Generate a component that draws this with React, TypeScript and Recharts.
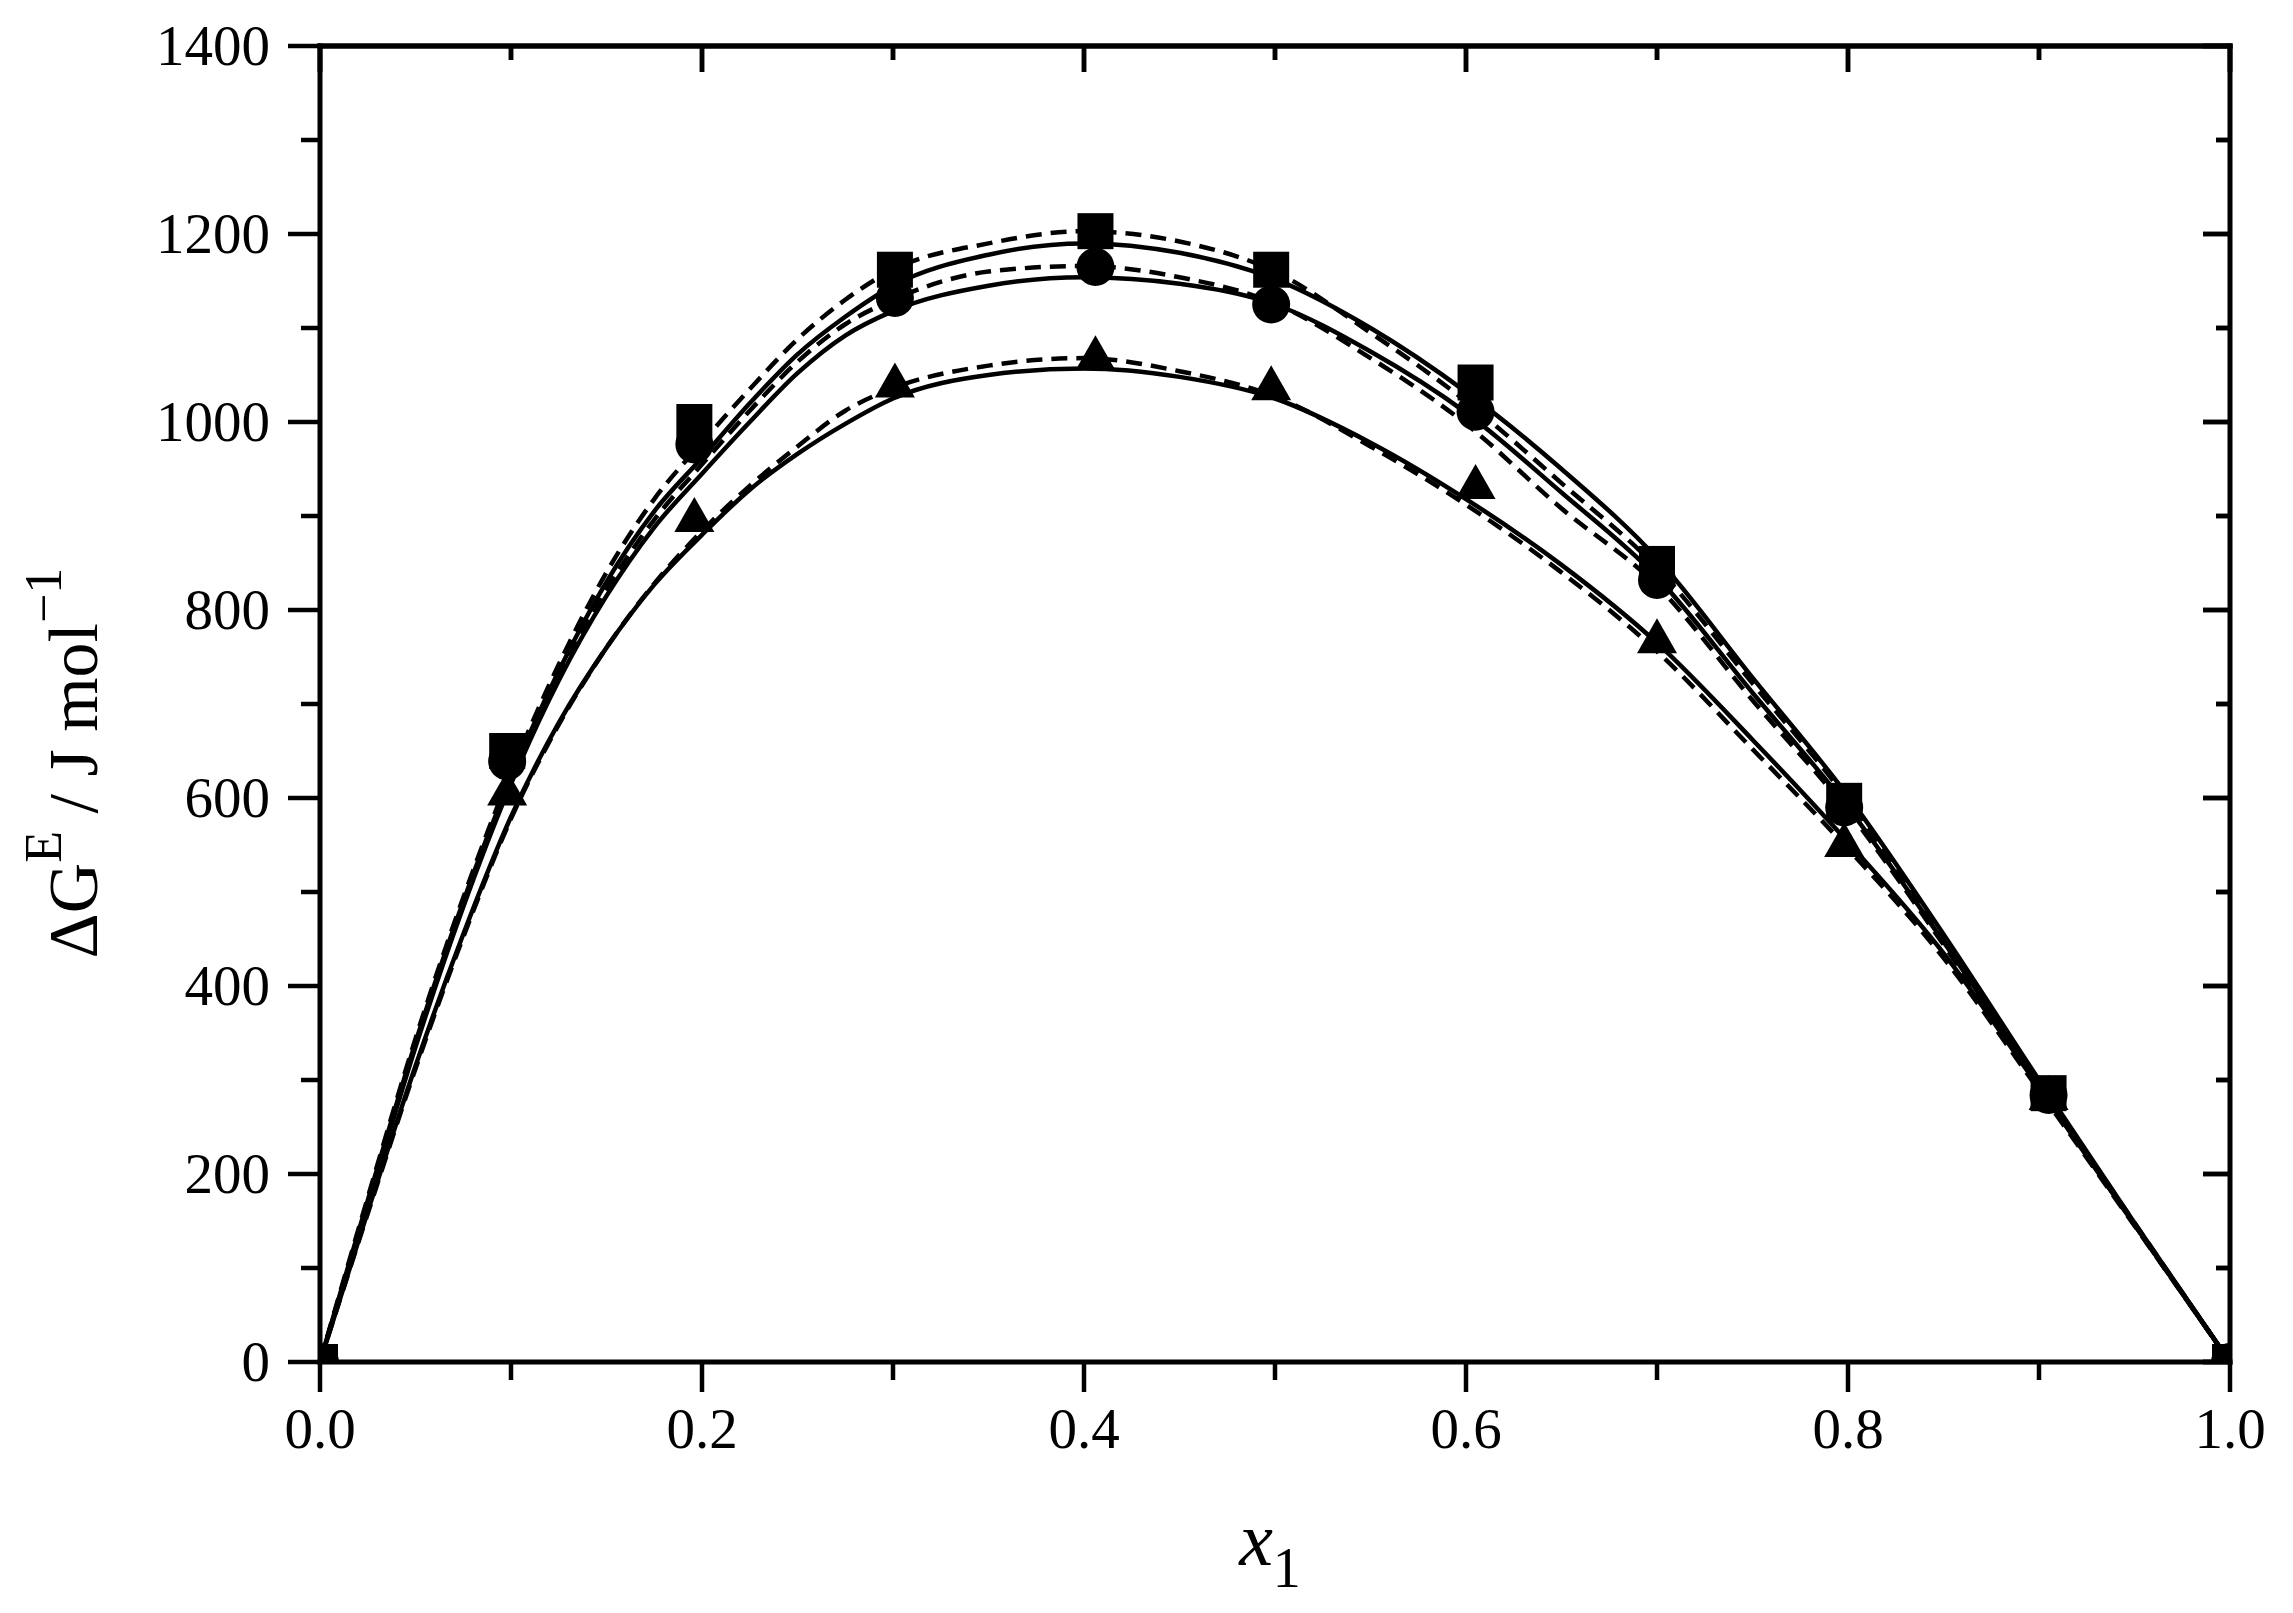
import { ComposedChart, Line, Scatter, XAxis, YAxis, ReferenceLine } from 'recharts';

// model curves (x1 grid)
const fitX = [0, 0.025, 0.05, 0.075, 0.1, 0.125, 0.15, 0.175, 0.2, 0.225, 0.25, 0.275, 0.3, 0.35, 0.4, 0.45, 0.5, 0.55, 0.6, 0.65, 0.7, 0.75, 0.8, 0.85, 0.9, 0.95, 1.0];
const squareSolid = [0, 172, 340, 490, 622, 735, 830, 905, 962, 1020, 1072, 1112, 1145, 1178, 1190, 1180, 1152, 1100, 1032, 950, 855, 728, 602, 455, 300, 148, 0];
const squareDashed = [0, 175, 344, 494, 627, 742, 840, 918, 978, 1035, 1088, 1130, 1162, 1190, 1203, 1192, 1160, 1095, 1022, 935, 845, 722, 598, 452, 298, 148, 0];
const circleSolid = [0, 168, 335, 484, 615, 725, 815, 888, 945, 1000, 1052, 1092, 1118, 1145, 1154, 1147, 1125, 1075, 1010, 925, 835, 712, 590, 447, 296, 147, 0];
const circleDashed = [0, 170, 338, 487, 618, 730, 822, 896, 955, 1012, 1064, 1104, 1130, 1160, 1166, 1154, 1126, 1068, 998, 908, 826, 704, 586, 444, 294, 146, 0];
const triangleSolid = [0, 160, 315, 455, 580, 680, 760, 827, 880, 928, 966, 998, 1025, 1050, 1057, 1048, 1025, 978, 918, 848, 765, 662, 553, 435, 292, 146, 0];
const triangleDashed = [0, 158, 312, 452, 578, 678, 760, 828, 884, 932, 974, 1012, 1036, 1060, 1068, 1054, 1027, 974, 912, 840, 756, 652, 546, 430, 289, 145, 0];

// experimental points
const pointX = [0, 0.098, 0.196, 0.301, 0.406, 0.498, 0.605, 0.7, 0.798, 0.905, 1.0];
const squares = [0, 650, 1000, 1162, 1203, 1162, 1042, 849, 597, 286, 0];
const circles = [0, 639, 976, 1132, 1165, 1125, 1011, 832, 590, 284, 0];
const triangles = [0, 607, 898, 1041, 1070, 1038, 933, 769, 552, 283, 0];

const xTicks = [0, 0.1, 0.2, 0.3, 0.4, 0.5, 0.6, 0.7, 0.8, 0.9, 1.0];
const yTicks = [0, 100, 200, 300, 400, 500, 600, 700, 800, 900, 1000, 1100, 1200, 1300, 1400];

const FONT = '"Liberation Serif", "Times New Roman", serif';

// layout
const W = 2293;
const H = 1613;
const MARGIN = { top: 45, right: 62, bottom: 151, left: 170 };
const Y_AXIS_W = 150;
const X_AXIS_H = 100;
const PLOT_W = W - MARGIN.left - MARGIN.right - Y_AXIS_W - 1;
const X_MAX = 1;
const Y_MAX = 1400;

const toPoints = (xs: number[], ys: number[]) => xs.map((x, i) => ({ x, y: ys[i] }));

const isMajorX = (v: number) => Math.round(v * 10) % 2 === 0;
const isMajorY = (v: number) => Math.round(v) % 200 === 0;

const BottomTick = (props: any) => {
  const { x, y, payload } = props;
  const major = isMajorX(payload.value);
  return (
    <g>
      <line x1={x} x2={x} y1={y} y2={y + (major ? 30 : 18)} stroke="#000" strokeWidth={4.5} />
      {major && (
        <text x={x} y={y + 86} textAnchor="middle" fontSize={57} fontFamily={FONT} fill="#000">
          {payload.value.toFixed(1)}
        </text>
      )}
    </g>
  );
};

const TopTick = (props: any) => {
  const { x, y, payload } = props;
  const major = isMajorX(payload.value);
  return <line x1={x} x2={x} y1={y} y2={y + (major ? 26 : 14)} stroke="#000" strokeWidth={4.5} />;
};

const RightTick = (props: any) => {
  const { x, y, payload } = props;
  const major = isMajorY(payload.value);
  return <line x1={x} x2={x - (major ? 27 : 14)} y1={y} y2={y} stroke="#000" strokeWidth={4.5} />;
};

// left ticks point out; the mirrored right ticks (and, on the top row, the top ticks) point in
const LeftTick = (props: any) => {
  const { x, y, payload } = props;
  const major = isMajorY(payload.value);
  const right = x + PLOT_W;
  return (
    <g>
      <line x1={x} x2={x - (major ? 32 : 19)} y1={y} y2={y} stroke="#000" strokeWidth={4.5} />
      <line x1={right} x2={right - (major ? 27 : 14)} y1={y} y2={y} stroke="#000" strokeWidth={4.5} />
      {Number(payload.value) === Y_MAX &&
        xTicks.map((v) => {
          const tx = x + (PLOT_W * v) / X_MAX;
          return <line key={v} x1={tx} x2={tx} y1={y} y2={y + (isMajorX(v) ? 26 : 14)} stroke="#000" strokeWidth={4.5} />;
        })}
      {major && (
        <text x={x - 50} y={y + 19} textAnchor="end" fontSize={57} fontFamily={FONT} fill="#000">
          {payload.value}
        </text>
      )}
    </g>
  );
};

const SquareMark = (p: any) => <rect x={p.cx - 18} y={p.cy - 18} width={36} height={36} fill="#000" />;
const CircleMark = (p: any) => <circle cx={p.cx} cy={p.cy} r={19} fill="#000" />;
const TriangleMark = (p: any) => (
  <polygon points={`${p.cx},${p.cy - 21} ${p.cx - 20},${p.cy + 14} ${p.cx + 20},${p.cy + 14}`} fill="#000" />
);

const XTitle = () => (
  <text x={1270} y={1565} textAnchor="middle" fontFamily={FONT} fill="#000">
    <tspan fontStyle="italic" fontSize={76}>x</tspan>
    <tspan fontSize={56} dy={22}>1</tspan>
  </text>
);

const YTitle = () => (
  <text x={97} y={763} transform="rotate(-90, 97, 763)" textAnchor="middle" fontFamily={FONT} fontSize={70} fill="#000">
    <tspan>ΔG</tspan>
    <tspan fontSize={52} dy={-36}>E</tspan>
    <tspan dy={36}> / J mol</tspan>
    <tspan fontSize={52} dy={-36}>−1</tspan>
  </text>
);

const axisLine = { stroke: '#000', strokeWidth: 5, strokeLinecap: 'square' as const };

export default function App() {
  const curves = [
    { ys: squareSolid, dash: undefined },
    { ys: squareDashed, dash: '16 9' },
    { ys: circleSolid, dash: undefined },
    { ys: circleDashed, dash: '16 9' },
    { ys: triangleSolid, dash: undefined },
    { ys: triangleDashed, dash: '16 9' },
  ];
  return (
    <div style={{ position: 'absolute', left: 0, top: 0, width: W, height: H, background: '#fff' }}>
      <ComposedChart width={W} height={H} margin={MARGIN}>
        <XAxis
          xAxisId="top"
          orientation="top"
          type="number"
          dataKey="x"
          domain={[0, X_MAX]}
          allowDataOverflow
          ticks={xTicks}
          interval={0}
          height={1}
          tickSize={0}
          tickMargin={0}
          tickLine={false}
          tick={TopTick}
          axisLine={axisLine}
        />
        <XAxis
          type="number"
          dataKey="x"
          domain={[0, X_MAX]}
          allowDataOverflow
          ticks={xTicks}
          interval={0}
          height={X_AXIS_H}
          tickSize={0}
          tickMargin={0}
          tickLine={false}
          tick={BottomTick}
          axisLine={axisLine}
          label={XTitle}
        />
        <YAxis
          type="number"
          domain={[0, Y_MAX]}
          allowDataOverflow
          ticks={yTicks}
          interval={0}
          width={Y_AXIS_W}
          tickSize={0}
          tickMargin={0}
          tickLine={false}
          tick={LeftTick}
          axisLine={axisLine}
          label={YTitle}
        />
        <YAxis
          yAxisId="right"
          orientation="right"
          type="number"
          domain={[0, Y_MAX]}
          allowDataOverflow
          ticks={yTicks}
          interval={0}
          width={1}
          tickSize={0}
          tickMargin={0}
          tickLine={false}
          tick={RightTick}
          axisLine={axisLine}
        />
        <ReferenceLine y={Y_MAX} stroke="#000" strokeWidth={5} strokeLinecap="square" ifOverflow="visible" />
        {curves.map((c, i) => (
          <Line
            key={i}
            data={toPoints(fitX, c.ys)}
            dataKey="y"
            type="monotone"
            stroke="#000"
            strokeWidth={4.5}
            strokeDasharray={c.dash}
            dot={false}
            activeDot={false}
            isAnimationActive={false}
          />
        ))}
        <Scatter
          xAxisId="top"
          yAxisId="right"
          data={toPoints(pointX, squares)}
          dataKey="y"
          shape={SquareMark}
          isAnimationActive={false}
        />
        <Scatter data={toPoints(pointX, circles)} dataKey="y" shape={CircleMark} isAnimationActive={false} />
        <Scatter data={toPoints(pointX, triangles)} dataKey="y" shape={TriangleMark} isAnimationActive={false} />
      </ComposedChart>
    </div>
  );
}
